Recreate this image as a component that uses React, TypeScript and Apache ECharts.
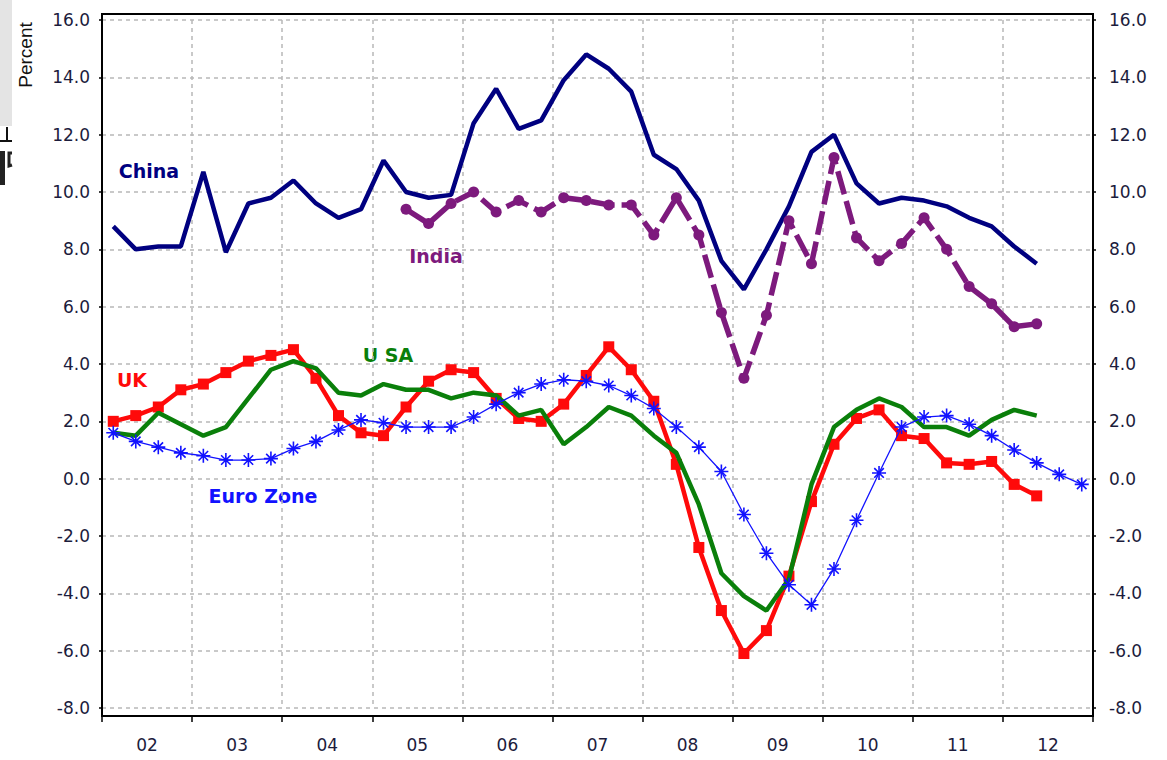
import React, { useEffect, useRef } from 'react';
import * as echarts from 'echarts';

const years = ['02', '03', '04', '05', '06', '07', '08', '09', '10', '11', '12'];
const quarterCats: string[] = [];
years.forEach((y) => {
  ['Q1', 'Q2', 'Q3', 'Q4'].forEach((q) => quarterCats.push('20' + y + q));
});

const yTicks = [-8, -6, -4, -2, 0, 2, 4, 6, 8, 10, 12, 14, 16];

const china = [8.8, 8.0, 8.1, 8.1, 10.7, 7.9, 9.6, 9.8, 10.4, 9.6, 9.1, 9.4, 11.1, 10.0, 9.8, 9.9,
  12.4, 13.6, 12.2, 12.5, 13.9, 14.8, 14.3, 13.5, 11.3, 10.8, 9.7, 7.6, 6.6, 8.0, 9.5, 11.4,
  12.0, 10.3, 9.6, 9.8, 9.7, 9.5, 9.1, 8.8, 8.1, 7.5, null, null];

const india = [null, null, null, null, null, null, null, null, null, null, null, null, null,
  9.4, 8.9, 9.6, 10.0, 9.3, 9.7, 9.3, 9.8, 9.7, 9.55, 9.55, 8.5, 9.8, 8.5, 5.8, 3.5, 5.7,
  9.0, 7.5, 11.2, 8.4, 7.6, 8.2, 9.1, 8.0, 6.7, 6.1, 5.3, 5.4, null, null];

const uk = [2.0, 2.2, 2.5, 3.1, 3.3, 3.7, 4.1, 4.3, 4.5, 3.5, 2.2, 1.6, 1.5, 2.5, 3.4, 3.8,
  3.7, 2.8, 2.1, 2.0, 2.6, 3.6, 4.6, 3.8, 2.7, 0.5, -2.4, -4.6, -6.1, -5.3, -3.4, -0.8,
  1.2, 2.1, 2.4, 1.5, 1.4, 0.55, 0.5, 0.6, -0.2, -0.6, null, null];

const usa = [1.6, 1.5, 2.3, 1.9, 1.5, 1.8, 2.8, 3.8, 4.1, 3.85, 3.0, 2.9, 3.3, 3.1, 3.1, 2.8,
  3.0, 2.9, 2.2, 2.4, 1.2, 1.8, 2.5, 2.2, 1.5, 0.9, -0.9, -3.3, -4.1, -4.6, -3.5, -0.2,
  1.8, 2.4, 2.8, 2.5, 1.8, 1.8, 1.5, 2.05, 2.4, 2.2, null, null];

const euro = [1.6, 1.3, 1.1, 0.9, 0.8, 0.65, 0.65, 0.7, 1.05, 1.3, 1.7, 2.05, 1.95, 1.8, 1.8, 1.8,
  2.15, 2.6, 3.0, 3.3, 3.45, 3.4, 3.25, 2.9, 2.45, 1.8, 1.1, 0.25, -1.25, -2.6, -3.7, -4.4,
  -3.15, -1.45, 0.2, 1.8, 2.15, 2.2, 1.9, 1.5, 1.0, 0.55, 0.15, -0.2];

const seriesNames = ['China', 'India', 'UK', 'U SA', 'Euro Zone'];
const axisName = 'Percent';

const C_CHINA = '#000080';
const C_INDIA = '#7d1a7d';
const C_UK = '#ff0a0a';
const C_USA = '#0a7f0a';
const C_EURO = '#1212ff';
const LABEL_COLOR = '#1c1c3c';
const GRID_COLOR = '#b8b8b8';

const asterisk = 'path://M5,0L5,10M0,5L10,5M1.6,1.6L8.4,8.4M1.6,8.4L8.4,1.6';

export default function App() {
  const ref = useRef<HTMLDivElement>(null);
  useEffect(() => {
    if (!ref.current) return;
    const chart = echarts.init(ref.current, null, { renderer: 'svg' });
    const yAxisBase = {
      type: 'value',
      min: yTicks[0],
      max: yTicks[yTicks.length - 1],
      interval: 2,
      axisLine: { show: false },
      axisTick: { show: true, inside: false, length: 3, lineStyle: { color: '#000', width: 1.5 } },
    };
    const labelFont = {
      fontFamily: 'DejaVu Sans',
      fontSize: 17,
      color: LABEL_COLOR,
    };
    chart.setOption({
      animation: false,
      backgroundColor: '#ffffff',
      grid: { left: 102, right: 74, top: 20, bottom: 52, containLabel: false },
      xAxis: [
        {
          type: 'category',
          data: quarterCats,
          boundaryGap: true,
          show: false,
          axisLine: { onZero: false },
        },
        {
          type: 'category',
          data: years,
          boundaryGap: true,
          position: 'bottom',
          offset: 8,
          axisLine: { show: false, onZero: false },
          axisTick: { show: true, inside: false, length: 6, alignWithLabel: false, lineStyle: { color: '#000', width: 1.5 } },
          axisLabel: { ...labelFont, margin: 20 },
          splitLine: { show: true, lineStyle: { color: GRID_COLOR, type: [4, 4], width: 1.5 } },
        },
      ],
      yAxis: [
        {
          ...yAxisBase,
          position: 'left',
          axisLabel: { ...labelFont, margin: 12, formatter: (v: number) => v.toFixed(1) },
          splitLine: { show: true, lineStyle: { color: GRID_COLOR, type: [4, 4], width: 1.5 } },
        },
        {
          ...yAxisBase,
          position: 'right',
          axisLabel: { ...labelFont, margin: 16, formatter: (v: number) => v.toFixed(1) },
          splitLine: { show: false },
        },
      ],
      series: [
        {
          name: seriesNames[0],
          type: 'line',
          data: china,
          xAxisIndex: 0,
          yAxisIndex: 0,
          showSymbol: false,
          symbol: 'none',
          lineStyle: { color: C_CHINA, width: 4.5 },
          itemStyle: { color: C_CHINA },
          z: 2,
        },
        {
          name: seriesNames[1],
          type: 'line',
          data: india,
          xAxisIndex: 0,
          yAxisIndex: 0,
          symbol: 'circle',
          symbolSize: 11,
          lineStyle: { color: C_INDIA, width: 5.5, type: [24, 7] },
          itemStyle: { color: C_INDIA },
          z: 3,
        },
        {
          name: seriesNames[2],
          type: 'line',
          data: uk,
          xAxisIndex: 0,
          yAxisIndex: 0,
          symbol: 'rect',
          symbolSize: 11,
          lineStyle: { color: C_UK, width: 4.5 },
          itemStyle: { color: C_UK },
          z: 4,
        },
        {
          name: seriesNames[3],
          type: 'line',
          data: usa,
          xAxisIndex: 0,
          yAxisIndex: 0,
          symbol: 'none',
          lineStyle: { color: C_USA, width: 4.5 },
          itemStyle: { color: C_USA },
          z: 5,
        },
        {
          name: seriesNames[4],
          type: 'line',
          data: euro,
          xAxisIndex: 0,
          yAxisIndex: 0,
          symbol: asterisk,
          symbolSize: 14,
          lineStyle: { color: C_EURO, width: 1.3 },
          itemStyle: { color: C_EURO, borderColor: C_EURO, borderWidth: 1.6 },
          z: 6,
        },
      ],
      graphic: [
        {
          type: 'rect',
          shape: { x: 102, y: 14, width: 991, height: 702 },
          style: { fill: 'none', stroke: '#000', lineWidth: 2 },
          silent: true,
          z: 100,
        },
        {
          type: 'rect',
          shape: { x: 0, y: 0, width: 12, height: 126 },
          style: { fill: '#e4e4e4' },
          silent: true,
        },
        {
          type: 'line',
          shape: { x1: 0, y1: 141, x2: 12, y2: 141 },
          style: { stroke: '#111', lineWidth: 2 },
          silent: true,
        },
        {
          type: 'line',
          shape: { x1: 7, y1: 127, x2: 7, y2: 141 },
          style: { stroke: '#111', lineWidth: 2 },
          silent: true,
        },
        {
          type: 'rect',
          shape: { x: 0, y: 151, width: 5, height: 34 },
          style: { fill: '#222' },
          silent: true,
        },
        {
          type: 'polyline',
          shape: { points: [[12, 153], [9, 153], [9, 166], [12, 165]] },
          style: { stroke: '#222', lineWidth: 3, fill: 'none' },
          silent: true,
        },
        {
          type: 'text',
          x: 25,
          y: 55,
          rotation: Math.PI / 2,
          style: {
            text: axisName,
            fill: '#111',
            font: '19px "Liberation Sans", Arial, sans-serif',
            align: 'center',
            verticalAlign: 'middle',
          },
          silent: true,
        },
        {
          type: 'text',
          x: 149,
          y: 171,
          style: { text: seriesNames[0], fill: C_CHINA, font: 'bold 19px "DejaVu Sans"', align: 'center', verticalAlign: 'middle' },
          silent: true,
        },
        {
          type: 'text',
          x: 436,
          y: 256,
          style: { text: seriesNames[1], fill: C_INDIA, font: 'bold 19px "DejaVu Sans"', align: 'center', verticalAlign: 'middle' },
          silent: true,
        },
        {
          type: 'text',
          x: 132,
          y: 380,
          style: { text: seriesNames[2], fill: C_UK, font: 'bold 19px "DejaVu Sans"', align: 'center', verticalAlign: 'middle' },
          silent: true,
        },
        {
          type: 'text',
          x: 388,
          y: 355,
          style: { text: seriesNames[3], fill: C_USA, font: 'bold 19px "DejaVu Sans"', align: 'center', verticalAlign: 'middle' },
          silent: true,
        },
        {
          type: 'text',
          x: 263,
          y: 496,
          style: { text: seriesNames[4], fill: C_EURO, font: 'bold 19px "DejaVu Sans"', align: 'center', verticalAlign: 'middle' },
          silent: true,
        },
      ],
    });
    return () => chart.dispose();
  }, []);
  return (
    <div
      ref={ref}
      style={{ position: 'fixed', left: 0, top: 0, width: 1167, height: 760, background: '#fff' }}
    />
  );
}
